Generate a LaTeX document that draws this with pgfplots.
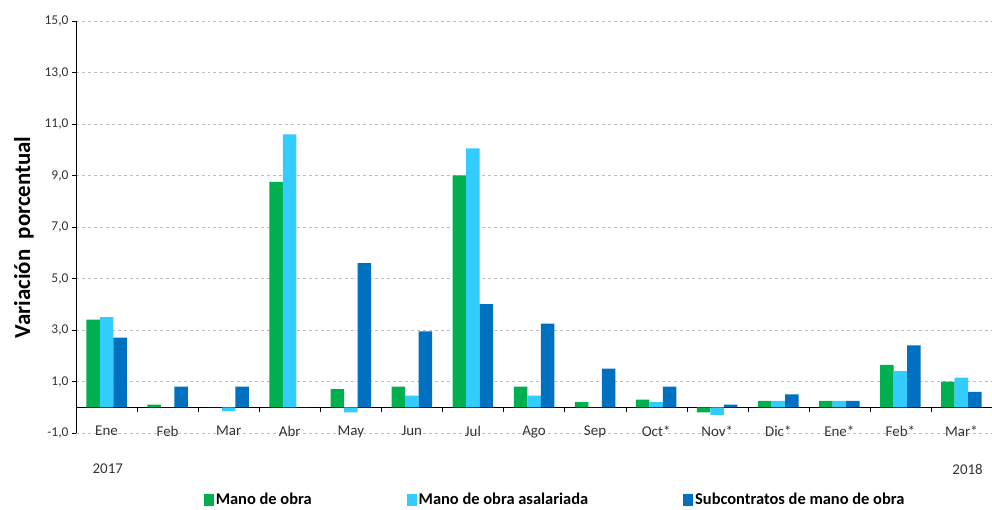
\documentclass[border=0pt]{standalone}
\usepackage{pgfplots}
\usepackage{pgfplotstable}
\pgfplotsset{compat=1.18}
\usepackage{fontspec}
\setmainfont{Carlito}
\definecolor{cg}{HTML}{00B050}
\definecolor{cc}{HTML}{33CCFF}
\definecolor{cb}{HTML}{0070C0}
\pgfplotstableread{
x g c b
0 3.4 3.5 2.7
1 0.1 0 0.8
2 0 -0.15 0.8
3 8.75 10.6 0
4 0.7 -0.2 5.6
5 0.8 0.45 2.95
6 9.0 10.05 4.0
7 0.8 0.45 3.25
8 0.2 0 1.5
9 0.3 0.2 0.8
10 -0.2 -0.3 0.1
11 0.25 0.25 0.5
12 0.25 0.25 0.25
13 1.65 1.4 2.4
14 1.0 1.15 0.6
}\data
\begin{document}
\begin{tikzpicture}
\useasboundingbox (-76bp,-77bp) rectangle (916bp,433bp);
\begin{axis}[
 scale only axis, width=916bp, height=412bp,
 xmin=-0.5, xmax=14.5, ymin=-1, ymax=15,
 axis x line*=middle, axis y line*=left,
 x axis line style={-, black}, y axis line style={-, black},
 clip=false,
 ybar=0pt, bar width=13.5bp,
 xtick={0,...,14},
 xticklabels={Ene,Feb,Mar,Abr,May,Jun,Jul,Ago,Sep,Oct*,Nov*,Dic*,Ene*,Feb*,Mar*},
 major x tick style={draw=none},
 minor xtick={0.5,1.5,...,13.5},
 minor x tick style={black},
 minor tick length=5bp,
 xtick align=outside,
 ytick={-1,1,...,15},
 ytick align=outside,
 major tick length=4bp,
 y tick style={black},
 ymajorgrids,
 grid style={dashed, black!25},
 yticklabel style={font=\fontsize{13.5}{15}\selectfont, text=black!80},
 xticklabel style={font=\fontsize{15}{17}\selectfont, text=black!80, yshift=-11bp},
 /pgf/number format/.cd, fixed, fixed zerofill, precision=1, use comma, assume math mode=true,
 /pgfplots/.cd,
 ylabel={Variación\ \ porcentual},
 ylabel style={at={(axis description cs:-0.057,0.475)}, anchor=center, font=\bfseries\fontsize{23}{25}\selectfont},
 legend style={at={(axis description cs:0.136,-0.162)}, anchor=west, draw=none, fill=none,
   legend columns=3, font=\bfseries\fontsize{16.5}{18}\selectfont,
   /tikz/every odd column/.append style={column sep=0bp},
   /tikz/every even column/.append style={column sep=93bp}},
 legend cell align=left,
 legend image code/.code={\fill[#1] (0bp,-6bp) rectangle (10bp,6bp);},
]
\addplot[fill=cg, draw=none] table[x=x,y=g]{\data};
\addplot[fill=cc, draw=none] table[x=x,y=c]{\data};
\addplot[fill=cb, draw=none] table[x=x,y=b]{\data};
\legend{Mano de obra, Mano de obra asalariada, Subcontratos de mano de obra}
\node[font=\fontsize{15}{17}\selectfont, text=black!80] at (axis cs:0.02,-2.4) {2017};
\node[font=\fontsize{15}{17}\selectfont, text=black!80] at (axis cs:14.1,-2.4) {2018};
\end{axis}
\end{tikzpicture}
\end{document}
